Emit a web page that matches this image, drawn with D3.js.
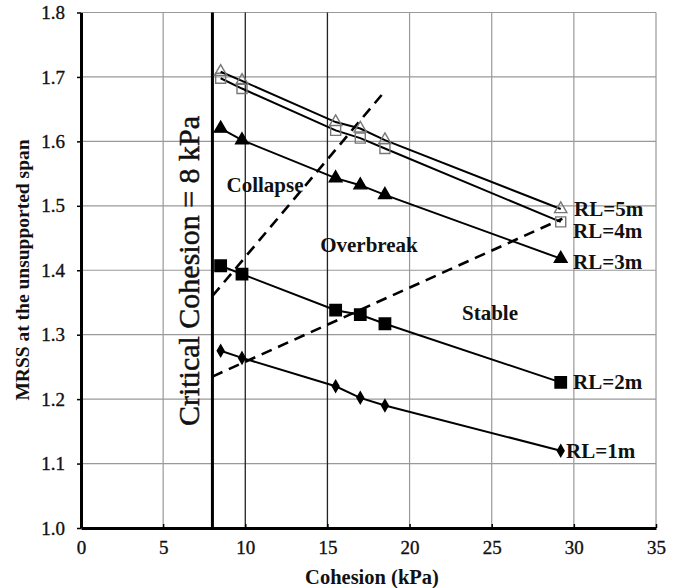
<!DOCTYPE html>
<html>
<head>
<meta charset="utf-8">
<script src="https://cdn.jsdelivr.net/npm/d3@7"></script>
<style>
  body { margin: 0; background: #fff; }
  svg { font-family: "Liberation Serif", "Times New Roman", serif; }
  .grid { stroke: #999; stroke-width: 1.2; }
  .grid_dark { stroke: #222; stroke-width: 1.3; }
  .series { fill: none; stroke: #000; stroke-width: 2; }
  .bound { fill: none; stroke: #000; stroke-width: 2.6; stroke-dasharray: 11 7; }
  .tick_lbl { font-size: 19px; fill: #111; stroke: #111; stroke-width: 0.35; }
  .bold_lbl { font-size: 21px; font-weight: bold; fill: #111; }
</style>
</head>
<body>
<svg id="svg" width="682" height="588"></svg>
<script>
const cohesion = [8.5, 9.8, 15.5, 17.0, 18.5, 29.2]
const rl1 = [1.275, 1.264, 1.220, 1.202, 1.190, 1.120]
const rl2 = [1.407, 1.394, 1.338, 1.331, 1.317, 1.226]
const rl3 = [1.620, 1.602, 1.543, 1.532, 1.517, 1.418]
const rl4 = [1.698, 1.682, 1.617, 1.605, 1.589, 1.475]
const rl5 = [1.708, 1.694, 1.630, 1.620, 1.602, 1.495]
const seriesNames = ['RL=1m', 'RL=2m', 'RL=3m', 'RL=4m', 'RL=5m']

// dashed boundaries between zones
const collapseX = [8.0, 18.3]
const collapseY = [1.36, 1.672]
const stableX = [8.0, 29.3]
const stableY = [1.235, 1.48]

const criticalC = 8
const xTicks = [0, 5, 10, 15, 20, 25, 30, 35]
const yTicks = [1.0, 1.1, 1.2, 1.3, 1.4, 1.5, 1.6, 1.7, 1.8]

const X0 = 81
const X1 = 656
const Y0 = 528
const Y1 = 12.5

const svg = d3.select('svg')
const x = d3.scaleLinear().domain([0, 35]).range([X0, X1])
const y = d3.scaleLinear().domain([1.0, 1.8]).range([Y0, Y1])

// grid
svg.append('g').selectAll('line').data(yTicks.slice(1)).join('line')
  .attr('class', 'grid')
  .attr('x1', X0).attr('x2', X1)
  .attr('y1', d => y(d)).attr('y2', d => y(d))
svg.append('g').selectAll('line').data(xTicks.slice(1)).join('line')
  .attr('class', d => (d === 10 || d === 15) ? 'grid_dark' : 'grid')
  .attr('x1', d => x(d)).attr('x2', d => x(d))
  .attr('y1', Y0).attr('y2', Y1)

// axes
const xAxis = svg.append('g')
  .attr('transform', 'translate(0,' + Y0 + ')')
  .call(d3.axisBottom(x).tickValues(xTicks).tickSizeInner(-4).tickSizeOuter(0).tickPadding(13))
  .attr('font-family', null).attr('font-size', null)
xAxis.select('.domain').attr('stroke-width', 3)
xAxis.selectAll('.tick line').attr('stroke-width', 1.5)
xAxis.selectAll('text').attr('class', 'tick_lbl')

const yAxis = svg.append('g')
  .attr('transform', 'translate(' + X0 + ',0)')
  .call(d3.axisLeft(y).tickValues(yTicks).tickFormat(d3.format('.1f')).tickSizeInner(4).tickSizeOuter(0).tickPadding(12))
  .attr('font-family', null).attr('font-size', null)
yAxis.select('.domain').attr('stroke-width', 3)
yAxis.selectAll('.tick line').attr('stroke-width', 1.5)
yAxis.selectAll('text').attr('class', 'tick_lbl')

// critical cohesion line
svg.append('line')
  .attr('x1', x(criticalC)).attr('x2', x(criticalC))
  .attr('y1', Y0).attr('y2', Y1)
  .attr('stroke', '#000').attr('stroke-width', 3)

svg.append('text')
  .attr('class', 'tick_lbl')
  .attr('transform', 'translate(' + 199 + ',' + 271 + ') rotate(-90)')
  .attr('text-anchor', 'middle')
  .style('font-size', '30px')
  .style('stroke-width', '0.5px')
  .text('Critical Cohesion = 8 kPa')

// zone boundaries
const bline = d3.line().x(d => x(d[0])).y(d => y(d[1]))
svg.append('path').attr('class', 'bound').attr('d', bline(d3.zip(collapseX, collapseY)))
svg.append('path').attr('class', 'bound').attr('d', bline(d3.zip(stableX, stableY)))

// series
const allSeries = [rl1, rl2, rl3, rl4, rl5]
const symbols = [
  { type: d3.symbolDiamond, size: 40, fill: '#000', stroke: '#000' },
  { type: d3.symbolSquare, size: 130, fill: '#000', stroke: '#000' },
  { type: d3.symbolTriangle, size: 70, fill: '#000', stroke: '#000' },
  { type: d3.symbolSquare, size: 100, fill: 'none', stroke: '#777' },
  { type: d3.symbolTriangle, size: 66, fill: 'none', stroke: '#777' }
]
const sline = d3.line().x(d => x(d[0])).y(d => y(d[1]))

allSeries.forEach((vals, i) => {
  const pts = d3.zip(cohesion, vals)
  const g = svg.append('g').attr('id', 'rl' + (i + 1))
  g.append('path').attr('class', 'series').attr('d', sline(pts))
  g.selectAll('path.mk').data(pts).join('path')
    .attr('class', 'mk')
    .attr('transform', d => 'translate(' + x(d[0]) + ',' + y(d[1]) + ')')
    .attr('d', d3.symbol().type(symbols[i].type).size(symbols[i].size))
    .attr('fill', symbols[i].fill)
    .attr('stroke', symbols[i].stroke)
    .attr('stroke-width', 1.4)
})

// series end labels
const lblX = [566, 573, 573, 573, 574]
const lblY = [451, 382, 262, 231, 209]
seriesNames.forEach((n, i) => {
  svg.append('text')
    .attr('class', 'bold_lbl')
    .attr('x', lblX[i]).attr('y', lblY[i])
    .attr('dy', '0.35em')
    .text(n)
})

// zone names
const zones = [['Collapse', 265, 185], ['Overbreak', 369, 245], ['Stable', 490, 313]]
zones.forEach(z => {
  svg.append('text')
    .attr('class', 'bold_lbl')
    .attr('x', z[1]).attr('y', z[2])
    .attr('dy', '0.35em')
    .attr('text-anchor', 'middle')
    .text(z[0])
})

// axis titles
svg.append('text')
  .attr('class', 'bold_lbl')
  .attr('x', 372).attr('y', 577)
  .attr('dy', '0.35em')
  .attr('text-anchor', 'middle')
  .style('font-size', '20.5px')
  .text('Cohesion (kPa)')

svg.append('text')
  .attr('class', 'bold_lbl')
  .attr('transform', 'translate(22,270) rotate(-90)')
  .attr('dy', '0.35em')
  .attr('text-anchor', 'middle')
  .style('font-size', '19.5px')
  .text('MRSS at the unsupported span')
</script>
</body>
</html>
